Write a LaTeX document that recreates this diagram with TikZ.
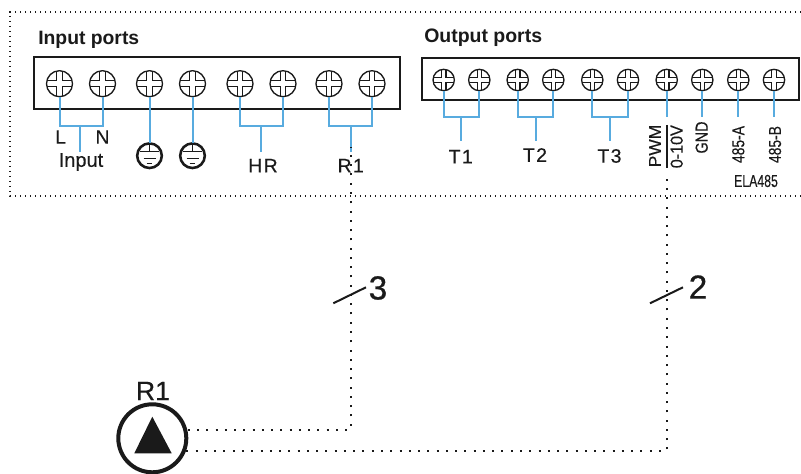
\documentclass[tikz,border=0pt]{standalone}
\usepackage{fontspec}
\setmainfont{Liberation Sans}
\newfontfamily\heavyface[FakeBold=0.6]{Liberation Sans}
\newfontfamily\midface[FakeBold=0.25]{Liberation Sans}
\definecolor{wireblue}{HTML}{58ABDF}
\definecolor{ink}{HTML}{1A1A1A}
\newcommand{\screwcross}[2]{%
  \foreach \sx in {-1,1}{\foreach \sy in {-1,1}{
    \draw[ink,line width=.8pt] (\sx*#1,\sy*#2) -- (\sx*#2,\sy*#2) -- (\sx*#2,\sy*#1);
  }}}
\tikzset{
  inscrew/.style={circle,draw=ink,fill=white,line width=1pt,inner sep=0pt,outer sep=0pt,minimum size=19.5pt,path picture={\screwcross{9.75pt}{2.1pt}}},
  outscrew/.style={circle,draw=ink,fill=white,line width=1pt,inner sep=0pt,outer sep=0pt,minimum size=16pt,path picture={\screwcross{8pt}{1.7pt}}},
  earthsym/.style={circle,draw=ink,line width=1.9pt,inner sep=0pt,outer sep=0pt,minimum size=18.5pt,path picture={
    \draw[ink,line width=1.1pt] (0pt,10pt) -- (0pt,3pt);
    \draw[ink,line width=1.1pt] (-6.8pt,3pt) -- (6.8pt,3pt);
    \draw[ink,line width=1.1pt] (-4.5pt,-2pt) -- (4.5pt,-2pt);
    \draw[ink,line width=1.1pt] (-2.2pt,-5.7pt) -- (2.2pt,-5.7pt);}},
  portbox/.style={draw=ink,line width=1.7pt,fill=white,inner sep=0pt,outer sep=0pt,anchor=north west},
  wire/.style={wireblue,line width=1.5pt},
  dotwire/.style={ink,line width=1.5pt,dash pattern=on 1.5pt off 5.45pt,dash phase=5pt},
  boundary/.style={ink,line width=1.1pt,dash pattern=on 1.1pt off 2.65pt},
  heading/.style={font=\bfseries\fontsize{14.5pt}{16pt}\selectfont,text=ink,inner sep=0pt},
  lab/.style={font=\midface\fontsize{14.6pt}{16pt}\selectfont,text=ink,inner sep=0pt},
  vlab/.style={font=\midface\fontsize{13pt}{14pt}\selectfont,text=ink,inner sep=0pt,rotate=90},
  bignum/.style={font=\heavyface\fontsize{25pt}{27pt}\selectfont,text=ink,inner sep=0pt},
  tick/.style={ink,line width=1.5pt}
}
\begin{document}
\begin{tikzpicture}[x=.75pt,y=-.75pt]
\useasboundingbox[fill=white] (0,0) rectangle (801,474);

% dotted boundary, open on the right
\coordinate (bTR) at (801,12);
\coordinate (bTL) at (10,12);
\coordinate (bBL) at (10,196);
\coordinate (bBR) at (801,196);
\draw[boundary] (bTR) -- (bTL) -- (bBL) -- (bBR);

% headings
\node[heading,anchor=west] (inhead) at (38,39.5) {Input ports};
\node[heading,anchor=west,font=\bfseries\fontsize{14.6pt}{16pt}\selectfont] (outhead) at (424,37.5) {Output ports};

% terminal strips
\node[portbox,minimum width=274.5pt,minimum height=39pt] (inbox) at (34,57) {};
\node[portbox,minimum width=282.75pt,minimum height=31.5pt] (outbox) at (422,58) {};

% input screws
\foreach \n/\x in {ia/59.5,ib/102.5,ic/149.5,id/192.5,ie/240,if/283,ig/329,ih/372}
  \node[inscrew] (\n) at (\x,83.7) {};
% output screws
\foreach \n/\x in {oa/443.7,ob/479.3,oc/517.7,od/553.3,oe/592.3,of/628,og/666.7,oh/702.3,oi/738.3,oj/774}
  \node[outscrew] (\n) at (\x,80) {};

% earth symbols
\node[earthsym] (ea) at (149.5,155.7) {};
\node[earthsym] (eb) at (192.5,155.7) {};

% labels
\node[lab] (lL) at (60.7,137) {L};
\node[lab] (lN) at (102.5,137) {N};
\node[lab,font=\midface\fontsize{15pt}{16pt}\selectfont] (lInput) at (81,162) {Input};
\node[lab] (lHR) at (263,165.7) {H\kern1pt R};
\node[lab] (lR1) at (350.7,165.7) {R\kern1pt 1};
\node[lab] (lT1) at (460.7,156.7) {T\kern1pt 1};
\node[lab] (lT2) at (535,155) {T\kern1pt 2};
\node[lab] (lT3) at (609.5,156) {T\kern1pt 3};
\node[vlab] (lPWM) at (655,146) {\scalebox{1}[1]{PWM}};
\node[vlab] (l010) at (676.7,146.7) {\scalebox{.93}[1]{0-10V}};
\node[vlab] (lGND) at (701.7,137.5) {\scalebox{.83}[1]{GND}};
\node[vlab] (lA) at (738.3,144.5) {\scalebox{.8}[1]{485-A}};
\node[vlab] (lB) at (775,144.5) {\scalebox{.8}[1]{485-B}};
\node[lab,font=\midface\fontsize{13pt}{14pt}\selectfont] (lELA) at (756,181) {\scalebox{.71}[1]{ELA485}};

% junctions and stem ends
\coordinate (jI) at (80.3,125.7);  \coordinate (sI) at (80.3,152);
\coordinate (jH) at (261,125.7);   \coordinate (sH) at (261,152);
\coordinate (jR) at (350.7,125.7); \coordinate (sR) at (350.7,152);
\coordinate (j1) at (461.3,117);   \coordinate (s1) at (461.3,141);
\coordinate (j2) at (535.7,117);   \coordinate (s2) at (535.7,141);
\coordinate (j3) at (610.3,117);   \coordinate (s3) at (610.3,141);
\coordinate (pwmEnd) at (666.7,117);
\coordinate (gndEnd) at (702.3,117);
\coordinate (aEnd) at (738.3,117);
\coordinate (bEnd) at (774,117);

% blue wires
\draw[wire] (ia.south) |- (jI) -| (ib.south);
\draw[wire] (jI) -- (sI);
\draw[wire] (ic.south) -- (ea.north);
\draw[wire] (id.south) -- (eb.north);
\draw[wire] (ie.south) |- (jH) -| (if.south);
\draw[wire] (jH) -- (sH);
\draw[wire] (ig.south) |- (jR) -| (ih.south);
\draw[wire] (jR) -- (sR);
\draw[wire] (oa.south) |- (j1) -| (ob.south);
\draw[wire] (j1) -- (s1);
\draw[wire] (oc.south) |- (j2) -| (od.south);
\draw[wire] (j2) -- (s2);
\draw[wire] (oe.south) |- (j3) -| (of.south);
\draw[wire] (j3) -- (s3);
\draw[wire] (og.south) -- (pwmEnd);
\draw[wire] (oh.south) -- (gndEnd);
\draw[wire] (oi.south) -- (aEnd);
\draw[wire] (oj.south) -- (bEnd);

% bar between PWM and 0-10V
\coordinate (barT) at (666.7,125);
\coordinate (barB) at (666.7,168);
\draw[ink,line width=1.2pt] (barT) -- (barB);
\coordinate (rStart) at (350.7,147);
\coordinate (pStart) at (666.7,174.5);

% pump
\node[circle,draw=ink,line width=3pt,fill=white,inner sep=0pt,outer sep=0pt,minimum size=51pt] (pump) at (152.3,438.3) {};
\coordinate (triA) at (152.3,416.7);
\coordinate (triB) at (134.3,453.3);
\coordinate (triC) at (171.7,453.3);
\fill[ink] (triA) -- (triB) -- (triC) -- cycle;
\node[lab,font=\midface\fontsize{20pt}{22pt}\selectfont] (lPump) at (153,391) {R1};

% dotted connectors
\draw[dotwire] (pump.15) -| (rStart);
\draw[dotwire] (pump.-22) -| (pStart);

% cable count ticks
\coordinate (t3a) at (333.3,303.3); \coordinate (t3b) at (366,287.3);
\coordinate (t2a) at (650,303.3);   \coordinate (t2b) at (683,287.3);
\draw[tick] (t3a) -- (t3b);
\draw[tick] (t2a) -- (t2b);
\node[bignum] (n3) at (378,288) {3};
\node[bignum] (n2) at (698,287) {2};
\end{tikzpicture}
\end{document}
